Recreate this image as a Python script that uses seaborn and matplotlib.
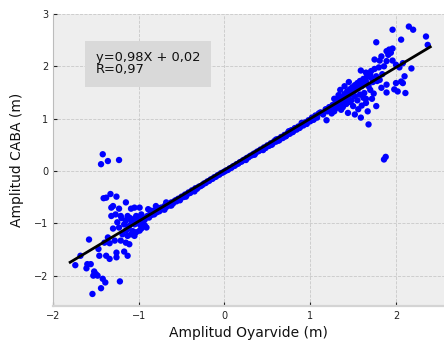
import matplotlib
matplotlib.use("Agg")
import matplotlib.pyplot as plt
import seaborn as sns
import numpy as np
import pandas as pd

# ---- data ----
band_x = [-0.98, -0.95, -0.93, -0.90, -0.88, -0.86, -0.85, -0.83, -0.82, -0.80, -0.79, -0.77,
          -0.76, -0.74, -0.72, -0.70, -0.68, -0.66, -0.64, -0.62, -0.60, -0.58, -0.56, -0.54,
          -0.52, -0.50, -0.48, -0.46, -0.44, -0.42, -0.40, -0.38, -0.36, -0.34, -0.32, -0.30,
          -0.28, -0.26, -0.24, -0.22, -0.20, -0.18, -0.16, -0.14, -0.12, -0.10, -0.08, -0.06,
          -0.04, -0.02, 0.00, 0.02, 0.04, 0.06, 0.08, 0.10, 0.12, 0.14, 0.16, 0.18, 0.20, 0.22,
          0.24, 0.26, 0.28, 0.30, 0.32, 0.34, 0.36, 0.38, 0.40, 0.42, 0.44, 0.46, 0.48, 0.50,
          0.52, 0.54, 0.56, 0.58, 0.60, 0.62, 0.64, 0.66, 0.68, 0.70, 0.72, 0.74, 0.76, 0.78,
          0.80, 0.82, 0.84, 0.86, 0.88, 0.90, 0.92, 0.94, 0.96, 0.98, 1.00, 1.02, 1.04, 1.06,
          1.08, 1.10,
          -0.80, -0.89, -0.97, -0.85, -0.68, -0.57, -0.91, -0.99, -1.03,
          -1.00, -1.02, -0.98, -1.05, -1.08, -1.10, -1.00, -0.95, -0.93, -1.12, -1.15, -1.20,
          -1.07, -0.97,
          -0.70, -0.62, -0.52, -0.45, -0.35, 0.25, 0.35, 0.45, 0.55, 0.63, 0.71, 0.79, 0.87,
          0.95, 1.03, 0.60, 0.75, 0.90]
band_y = [-0.95, -0.90, -0.93, -0.86, -0.89, -0.80, -0.84, -0.78, -0.83, -0.74, -0.79, -0.72,
          -0.77, -0.70, -0.73, -0.67, -0.69, -0.64, -0.66, -0.60, -0.62, -0.57, -0.58, -0.53,
          -0.54, -0.49, -0.50, -0.45, -0.46, -0.41, -0.42, -0.37, -0.38, -0.33, -0.34, -0.30,
          -0.29, -0.27, -0.24, -0.23, -0.20, -0.19, -0.16, -0.15, -0.12, -0.11, -0.08, -0.07,
          -0.04, -0.03, -0.01, 0.01, 0.02, 0.05, 0.06, 0.09, 0.10, 0.13, 0.14, 0.17, 0.18, 0.21,
          0.22, 0.25, 0.26, 0.29, 0.30, 0.33, 0.34, 0.37, 0.38, 0.41, 0.41, 0.45, 0.44, 0.49,
          0.48, 0.53, 0.52, 0.57, 0.56, 0.61, 0.59, 0.65, 0.63, 0.69, 0.67, 0.73, 0.71, 0.78,
          0.75, 0.82, 0.79, 0.85, 0.83, 0.89, 0.87, 0.93, 0.90, 0.97, 0.95, 1.02, 0.98, 1.06,
          1.02, 1.10,
          -0.67, -0.73, -0.83, -0.76, -0.60, -0.56, -1.08, -1.14, -1.17,
          -0.95, -1.00, -1.03, -0.92, -0.98, -0.90, -0.88, -0.98, -1.04, -1.10, -0.95, -0.90,
          -1.15, -1.10,
          -0.74, -0.66, -0.56, -0.49, -0.39, 0.21, 0.31, 0.40, 0.50, 0.58, 0.66, 0.74, 0.82,
          0.90, 0.98, 0.60, 0.76, 0.92]

low_x = [-1.42, -1.36, -1.44, -1.23, -1.38, -1.33, -1.26, -1.15, -1.41, -1.30, -1.32, -1.23,
         -1.09, -1.05, -0.99, -1.27, -1.21, -1.13, -1.32, -1.03, -0.97, -1.25, -1.17, -1.11,
         -1.05, -1.23, -1.30, -1.15, -1.09, -1.05, -1.13, -1.19, -1.36, -1.28, -1.40, -1.34,
         -1.58, -1.21, -1.15, -1.11, -1.47, -1.46, -1.38, -1.26, -1.34, -1.17, -1.13, -1.26,
         -1.74, -1.68, -1.60, -1.61, -1.56, -1.52, -1.50, -1.48, -1.53, -1.42, -1.39, -1.22,
         -1.44, -1.54]
low_y = [0.32, 0.19, 0.13, 0.21, -0.51, -0.44, -0.49, -0.60, -0.52, -0.67, -0.70, -0.72,
         -0.72, -0.70, -0.70, -0.83, -0.86, -0.86, -0.86, -0.86, -0.86, -0.98, -1.02, -1.05,
         -1.02, -1.08, -1.10, -1.14, -1.21, -1.24, -1.24, -1.21, -1.27, -1.33, -1.37, -1.38,
         -1.31, -1.33, -1.37, -1.40, -1.49, -1.62, -1.62, -1.56, -1.68, -1.54, -1.62, -1.65,
         -1.80, -1.62, -1.78, -1.86, -1.78, -1.92, -1.97, -2.00, -2.00, -2.06, -2.13, -2.11,
         -2.24, -2.35]

high_x = [1.96, 2.15, 2.20, 2.35, 2.37, 2.06, 1.77, 1.92, 1.96, 1.89, 1.83, 1.91, 1.94,
          1.75, 1.81, 1.89, 1.96, 2.00, 2.08, 2.04, 2.18, 2.10, 2.06, 2.08, 2.00, 1.98, 2.02,
          2.11, 1.89, 1.83, 1.89, 1.77, 1.71, 1.65, 1.81, 1.59, 1.65, 1.71, 1.72, 1.65, 1.65,
          1.77, 1.67, 1.59, 1.52, 1.68, 1.56, 1.50, 1.46, 1.58, 1.52, 1.63, 1.19, 1.44, 1.36,
          1.28, 1.86, 1.88,
          1.12, 1.15, 1.18, 1.20, 1.22, 1.24, 1.26, 1.28, 1.30, 1.32, 1.34, 1.35, 1.37, 1.38,
          1.40, 1.41, 1.43, 1.44, 1.46, 1.47, 1.49, 1.50, 1.52, 1.53, 1.55, 1.56, 1.58, 1.60,
          1.62, 1.63, 1.66, 1.68, 1.70, 1.73, 1.75, 1.78, 1.80, 1.84, 1.86, 1.40, 1.45, 1.35,
          1.42, 1.48, 1.55, 1.60, 1.62, 1.70, 1.74, 1.30, 1.25, 1.38, 1.33, 1.28]
high_y = [2.70, 2.76, 2.70, 2.57, 2.41, 2.51, 2.46, 2.32, 2.34, 2.29, 2.19, 2.22, 2.26,
          2.13, 2.11, 2.10, 2.11, 2.03, 2.06, 1.98, 1.96, 1.81, 1.71, 1.68, 1.68, 1.56, 1.52,
          1.49, 1.65, 1.59, 1.50, 1.81, 1.78, 1.71, 1.74, 1.92, 1.88, 1.91, 1.38, 1.38, 1.30,
          1.24, 1.14, 1.02, 1.08, 0.89, 1.18, 1.24, 1.32, 1.46, 1.43, 1.49, 0.97, 1.11, 1.17,
          1.14, 0.22, 0.27,
          1.12, 1.08, 1.18, 1.14, 1.22, 1.17, 1.26, 1.22, 1.32, 1.26, 1.38, 1.30, 1.42, 1.34,
          1.47, 1.38, 1.52, 1.42, 1.56, 1.46, 1.60, 1.50, 1.64, 1.55, 1.68, 1.58, 1.72, 1.62,
          1.76, 1.66, 1.80, 1.62, 1.84, 1.70, 1.95, 1.72, 1.98, 1.85, 2.00, 1.62, 1.70, 1.55,
          1.28, 1.35, 1.35, 1.25, 1.40, 1.55, 1.48, 1.20, 1.10, 1.22, 1.45, 1.38]

fit_slope = 0.98
fit_intercept = 0.02
fit_x = [-1.8, 2.4]
annotation = "y=0,98X + 0,02\nR=0,97"
x_label = "Amplitud Oyarvide (m)"
y_label = "Amplitud CABA (m)"

# ---- build frames ----
pts = pd.DataFrame({
    "x": band_x + low_x + high_x,
    "y": band_y + low_y + high_y,
})
fit = pd.DataFrame({"x": fit_x})
fit["y"] = fit_slope * fit["x"] + fit_intercept

# ---- style ----
plt.style.use("bmh")
plt.rcParams["font.family"] = ["DejaVu Sans"]

fig = plt.figure(figsize=(4.44, 3.40), dpi=100)
ax = fig.add_axes([0.1194, 0.100, 0.8806, 0.8588])
ax.set_facecolor("#eeeeee")

sns.scatterplot(data=pts, x="x", y="y", ax=ax, color="#0000ff", s=21,
                linewidth=0, edgecolor="none", zorder=3)
sns.lineplot(data=fit, x="x", y="y", ax=ax, color="black", linewidth=2.0,
             zorder=4)

ax.set_xlim(-2.0, 2.56)
ax.set_ylim(-2.58, 3.0)
ax.set_xticks([-2, -1, 0, 1, 2])
ax.set_yticks([-2, -1, 0, 1, 2, 3])

ax.grid(True, linestyle="--", color="#c8c8c8", linewidth=0.6)
ax.set_axisbelow(True)
for side in ["top", "right"]:
    ax.spines[side].set_visible(False)
ax.spines["left"].set_color("#bcbcbc")
ax.spines["left"].set_linewidth(0.8)
ax.spines["bottom"].set_color("#d4d4d4")
ax.spines["bottom"].set_linewidth(1.6)

ax.tick_params(axis="both", direction="in", length=3, width=0.8, color="#222222",
               labelsize=7.0, labelcolor="#222222", pad=3.5)

ax.set_xlabel(x_label, fontsize=10.0, color="#111111", labelpad=4)
ax.set_ylabel(y_label, fontsize=10.0, color="#111111", labelpad=7)

ax.text(-1.5, 2.05, annotation, fontsize=9.4, color="#111111",
        ha="left", va="center", linespacing=0.9,
        bbox=dict(facecolor="#d9d9d9", edgecolor="none", pad=7.5), zorder=5)

fig.savefig("out.png", dpi=100)
